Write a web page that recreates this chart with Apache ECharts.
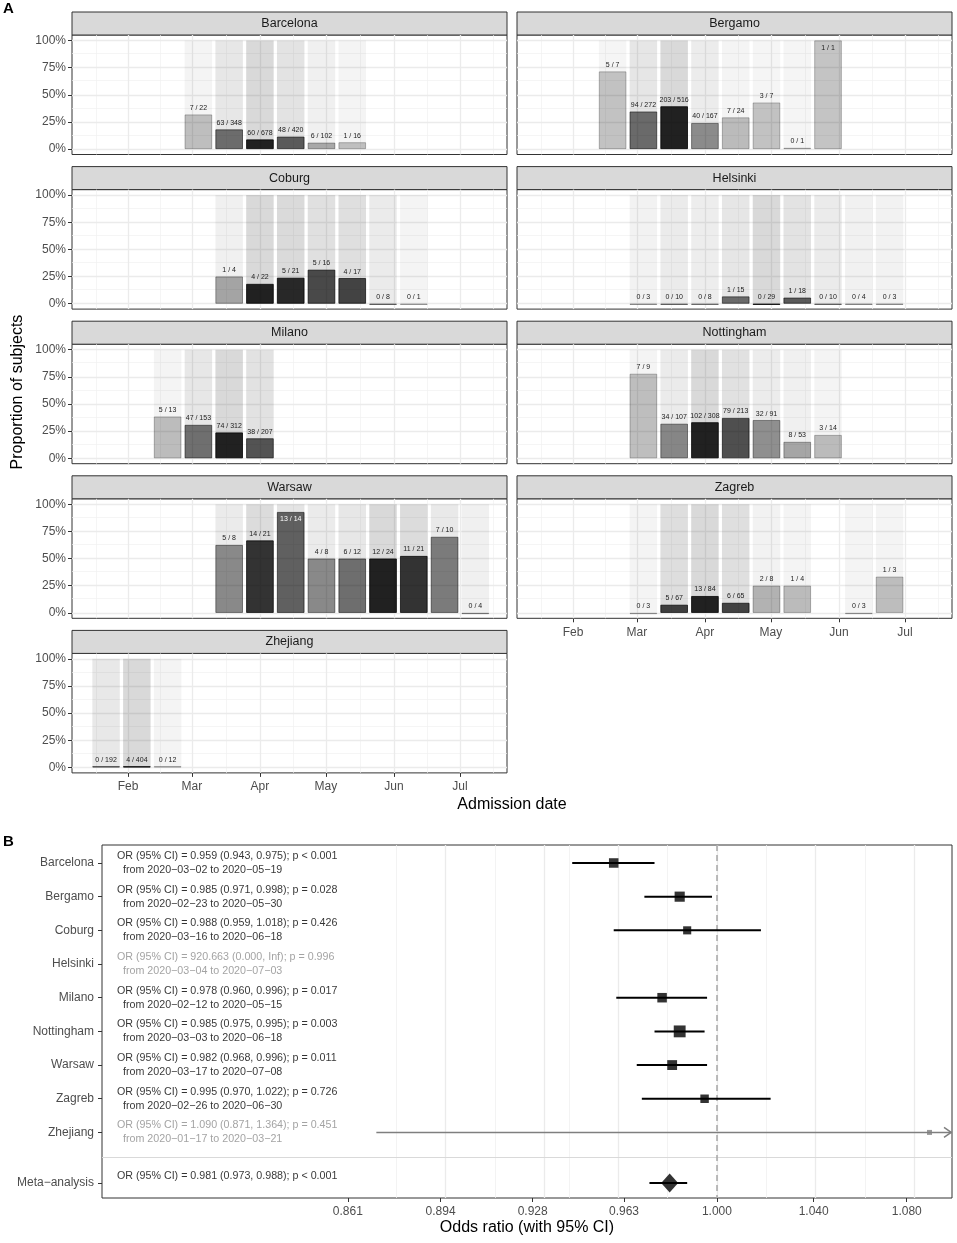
<!DOCTYPE html>
<html><head><meta charset="utf-8">
<script src="https://cdn.jsdelivr.net/npm/echarts@6/dist/echarts.min.js"></script>
<style>html,body{margin:0;padding:0;background:#fff}#c{width:957px;height:1243px}</style>
</head><body><div id="c"></div>
<script>
const _ = null;
const sites = ['Barcelona','Bergamo','Coburg','Helsinki','Milano','Nottingham','Warsaw','Zagreb','Zhejiang'];
const binCentres = ['2020-01-22','2020-02-05','2020-02-19','2020-03-04','2020-03-18','2020-04-01','2020-04-15','2020-04-29','2020-05-13','2020-05-27','2020-06-10','2020-06-24','2020-07-08'];
const barcelonaEvents  = [_,_,_,7,63,60,48,6,1,_,_,_,_];
const barcelonaTotals  = [_,_,_,22,348,678,420,102,16,_,_,_,_];
const bergamoEvents    = [_,_,5,94,203,40,7,3,0,1,_,_,_];
const bergamoTotals    = [_,_,7,272,516,167,24,7,1,1,_,_,_];
const coburgEvents     = [_,_,_,_,1,4,5,5,4,0,0,_,_];
const coburgTotals     = [_,_,_,_,4,22,21,16,17,8,1,_,_];
const helsinkiEvents   = [_,_,_,0,0,0,1,0,1,0,0,0,_];
const helsinkiTotals   = [_,_,_,3,10,8,15,29,18,10,4,3,_];
const milanoEvents     = [_,_,5,47,74,38,_,_,_,_,_,_,_];
const milanoTotals     = [_,_,13,153,312,207,_,_,_,_,_,_,_];
const nottinghamEvents = [_,_,_,7,34,102,79,32,8,3,_,_,_];
const nottinghamTotals = [_,_,_,9,107,308,213,91,53,14,_,_,_];
const warsawEvents     = [_,_,_,_,5,14,13,4,6,12,11,7,0];
const warsawTotals     = [_,_,_,_,8,21,14,8,12,24,21,10,4];
const zagrebEvents     = [_,_,_,0,5,13,6,2,1,_,0,1,_];
const zagrebTotals     = [_,_,_,3,67,84,65,8,4,_,3,3,_];
const zhejiangEvents   = [0,4,0,_,_,_,_,_,_,_,_,_,_];
const zhejiangTotals   = [192,404,12,_,_,_,_,_,_,_,_,_,_];
const monthTicks  = ['2020-02-01','2020-03-01','2020-04-01','2020-05-01','2020-06-01','2020-07-01'];
const monthLabels = ['Feb','Mar','Apr','May','Jun','Jul'];
const propTicks = [0, 0.25, 0.5, 0.75, 1];

// forest plot
const orEst  = [0.959, 0.985, 0.988, 920.663, 0.978, 0.985, 0.982, 0.995, 1.090];
const orLow  = [0.943, 0.971, 0.959, 0.000, 0.960, 0.975, 0.968, 0.970, 0.871];
const orHigh = [0.975, 0.998, 1.018, Infinity, 0.996, 0.995, 0.996, 1.022, 1.364];
const pText  = ['< 0.001','= 0.028','= 0.426','= 0.996','= 0.017','= 0.003','= 0.011','= 0.726','= 0.451'];
const fromDates = ['2020-03-02','2020-02-23','2020-03-16','2020-03-04','2020-02-12','2020-03-03','2020-03-17','2020-02-26','2020-01-17'];
const toDates   = ['2020-05-19','2020-05-30','2020-06-18','2020-07-03','2020-05-15','2020-06-18','2020-07-08','2020-06-30','2020-03-21'];
const weights = [14.5, 16.5, 10.5, 0, 14.5, 22.5, 15.5, 11.5, 4];
const metaName = 'Meta\u2212analysis';
const metaEst = 0.981, metaLow = 0.973, metaHigh = 0.988, metaP = '< 0.001';
const orTicks = [0.861, 0.894, 0.928, 0.963, 1.000, 1.040, 1.080];

// ---------- build ----------
const FONT = 'Liberation Sans, Arial, Helvetica, sans-serif';
const dayOf = s => { const [y,m,d] = s.split('-').map(Number); return (Date.UTC(y,m-1,d) - Date.UTC(2020,0,1)) / 86400000; };
const binDays = binCentres.map(dayOf);
const monthDays = monthTicks.map(dayOf);
const siteEvents = [barcelonaEvents,bergamoEvents,coburgEvents,helsinkiEvents,milanoEvents,nottinghamEvents,warsawEvents,zagrebEvents,zhejiangEvents];
const siteTotals = [barcelonaTotals,bergamoTotals,coburgTotals,helsinkiTotals,milanoTotals,nottinghamTotals,warsawTotals,zagrebTotals,zhejiangTotals];

const COL_X = [72, 517], PANEL_W = 435, PANEL_H = 119.5, TOP0 = 35, PITCH = 154.6, STRIP_H = 23;
const X_MIN = 5.5, X_MAX = 203.4;

const vMinor = [];
vMinor.push(monthDays[0] - (monthDays[1]-monthDays[0])/2);
for (let k = 0; k < monthDays.length-1; k++) vMinor.push((monthDays[k]+monthDays[k+1])/2);
const L = monthDays.length;
vMinor.push(monthDays[L-1] + (monthDays[L-1]-monthDays[L-2])/2);
const hMinor = [];
for (let k = 0; k < propTicks.length-1; k++) hMinor.push((propTicks[k]+propTicks[k+1])/2);

const option = { animation: false, textStyle: { fontFamily: FONT }, grid: [], xAxis: [], yAxis: [], series: [], graphic: [] };

sites.forEach((name, i) => {
  const col = i % 2, row = Math.floor(i / 2);
  const left = COL_X[col], top = TOP0 + row * PITCH;
  const showY = col === 0;
  const showX = i >= sites.length - 2;
  option.grid.push({ left, top, width: PANEL_W, height: PANEL_H, show: true, backgroundColor: '#fff', borderColor: '#333', borderWidth: 1 });
  option.xAxis.push({ type: 'value', gridIndex: i, min: X_MIN, max: X_MAX, position: 'bottom',
    axisLine: { show: false, onZero: false }, splitLine: { show: false },
    axisTick: { show: showX, customValues: monthDays, length: 4, lineStyle: { color: '#333' } },
    axisLabel: { show: showX, customValues: monthDays, fontSize: 12, color: '#4d4d4d', margin: 8,
      formatter: v => { const k = monthDays.indexOf(Math.round(v)); return k >= 0 ? monthLabels[k] : ''; } } });
  option.yAxis.push({ type: 'value', gridIndex: i, min: -0.05, max: 1.05, position: 'left',
    axisLine: { show: false, onZero: false }, splitLine: { show: false },
    axisTick: { show: showY, customValues: propTicks, length: 4, lineStyle: { color: '#333' } },
    axisLabel: { show: showY, customValues: propTicks, fontSize: 12, color: '#4d4d4d', margin: 6,
      formatter: v => Math.round(v * 100) + '%' } });

  const ev = siteEvents[i], tot = siteTotals[i];
  const maxN = Math.max(...tot.filter(v => v != null));
  const bg = [], fg = [];
  binDays.forEach((d, k) => {
    if (tot[k] == null) return;
    const r = tot[k] / maxN;
    const aF = 0.2 + 0.65 * r, aB = 0.04 + 0.11 * r;
    const p = ev[k] / tot[k];
    bg.push({ value: [d, 1], itemStyle: { color: `rgba(0,0,0,${aB.toFixed(3)})` } });
    const inside = p > 0.85;
    fg.push({ value: [d, p], lab: `${ev[k]} / ${tot[k]}`,
      itemStyle: { color: `rgba(0,0,0,${aF.toFixed(3)})`, borderColor: `rgba(0,0,0,${Math.min(1, aF + 0.1).toFixed(3)})`, borderWidth: 0.8 },
      label: inside ? { position: 'insideTop', distance: 4, color: aF > 0.5 ? '#fff' : '#1a1a1a' } : {} });
  });
  const gl = [];
  vMinor.forEach(v => gl.push({ xAxis: v, lineStyle: { color: '#f0f0f0', width: 0.7, type: 'solid' } }));
  hMinor.forEach(v => gl.push({ yAxis: v, lineStyle: { color: '#f0f0f0', width: 0.7, type: 'solid' } }));
  monthDays.forEach(v => gl.push({ xAxis: v, lineStyle: { color: '#ebebeb', width: 1.3, type: 'solid' } }));
  propTicks.forEach(v => gl.push({ yAxis: v, lineStyle: { color: '#ebebeb', width: 1.3, type: 'solid' } }));

  option.series.push({ type: 'bar', xAxisIndex: i, yAxisIndex: i, barWidth: 27.5, barGap: '-100%', z: 2, silent: true, data: bg,
    markLine: { silent: true, z: 1, symbol: 'none', label: { show: false }, data: gl } });
  option.series.push({ type: 'bar', xAxisIndex: i, yAxisIndex: i, barWidth: 27.5, barGap: '-100%', z: 3, silent: true,
    barMinHeight: 1.2, data: fg,
    label: { show: true, position: 'top', distance: 3, fontSize: 7, color: '#1a1a1a', fontFamily: FONT, formatter: p => p.data.lab } });

  option.graphic.push({ type: 'rect', shape: { x: left, y: top - STRIP_H, width: PANEL_W, height: STRIP_H },
    style: { fill: '#d9d9d9', stroke: '#333', lineWidth: 1 } });
  option.graphic.push({ type: 'text', x: left + PANEL_W / 2, y: top - STRIP_H / 2,
    style: { text: name, textAlign: 'center', textVerticalAlign: 'middle', font: `12.5px ${FONT}`, fill: '#1a1a1a' } });
});

// ---- forest ----
const FI = sites.length;
const F_LEFT = 102, F_TOP = 845, F_W = 850, F_H = 353;
const F_XMIN = Math.log(0.7793), F_XMAX = Math.log(1.1);
const rowNames = sites.concat([metaName]);
const rowYs = rowNames.map((n, i) => i < sites.length ? i : sites.length + 0.5);
const orTickLn = orTicks.map(Math.log);
const hy = s => s.replace(/-/g, '\u2212');

option.grid.push({ left: F_LEFT, top: F_TOP, width: F_W, height: F_H, show: true, backgroundColor: '#fff', borderColor: '#333', borderWidth: 1 });
option.xAxis.push({ type: 'value', gridIndex: FI, min: F_XMIN, max: F_XMAX, position: 'bottom',
  axisLine: { show: false, onZero: false }, splitLine: { show: false },
  axisTick: { customValues: orTickLn, length: 4, lineStyle: { color: '#333' } },
  axisLabel: { customValues: orTickLn, fontSize: 12, color: '#4d4d4d', margin: 8, formatter: v => Math.exp(v).toFixed(3) } });
option.yAxis.push({ type: 'value', gridIndex: FI, inverse: true, min: -0.534, max: 9.947, position: 'left',
  axisLine: { show: false, onZero: false }, splitLine: { show: false },
  axisTick: { customValues: rowYs, length: 4, lineStyle: { color: '#333' } },
  axisLabel: { customValues: rowYs, fontSize: 12, color: '#4d4d4d', margin: 8, formatter: v => rowNames[rowYs.indexOf(v)] || '' } });

const faded = i => !(isFinite(orHigh[i]) && orHigh[i] <= 1.1);
const fGrid = [];
for (let k = 0; k < orTickLn.length - 1; k++) fGrid.push({ xAxis: (orTickLn[k] + orTickLn[k+1]) / 2, lineStyle: { color: '#f0f0f0', width: 0.8, type: 'solid' } });
orTickLn.slice(1).forEach(v => fGrid.push({ xAxis: v, lineStyle: { color: '#ebebeb', width: 1.3, type: 'solid' } }));
fGrid.push({ yAxis: sites.length - 0.25, lineStyle: { color: '#d9d9d9', width: 1, type: 'solid' } });
fGrid.push({ xAxis: 0, lineStyle: { color: '#a6a6a6', width: 1.5, type: [6, 4] } });

const ciData = [];
sites.forEach((s, i) => { if (orLow[i] > 0 && isFinite(orHigh[i])) ciData.push([rowYs[i], Math.log(orLow[i]), Math.log(orHigh[i]), faded(i) ? 1 : 0]); });
ciData.push([rowYs[sites.length], Math.log(metaLow), Math.log(metaHigh), 0]);

option.series.push({ type: 'custom', xAxisIndex: FI, yAxisIndex: FI, z: 3, silent: true, clip: true,
  encode: { x: [1, 2], y: 0 }, data: ciData,
  renderItem: (params, api) => {
    const y = api.value(0), rawHi = api.value(2);
    const lo = Math.max(api.value(1), F_XMIN), hi = Math.min(rawHi, F_XMAX);
    const p1 = api.coord([lo, y]), p2 = api.coord([hi, y]);
    const f = api.value(3) === 1;
    const col = f ? '#7f7f7f' : '#000', lw = f ? 1.5 : 2;
    const ch = [{ type: 'line', shape: { x1: p1[0], y1: p1[1], x2: p2[0], y2: p2[1] }, style: { stroke: col, lineWidth: lw } }];
    if (rawHi > F_XMAX) ch.push({ type: 'polyline', shape: { points: [[p2[0] - 8, p2[1] - 5], [p2[0] - 0.8, p2[1]], [p2[0] - 8, p2[1] + 5]] }, style: { stroke: col, lineWidth: lw, fill: null } });
    return { type: 'group', children: ch };
  } });

const sqData = [];
sites.forEach((s, i) => {
  const x = Math.log(orEst[i]);
  if (x > F_XMIN && x < F_XMAX && weights[i] > 0)
    sqData.push({ value: [x, rowYs[i]], symbolSize: 2.5 * Math.sqrt(weights[i]), itemStyle: { color: faded(i) ? '#7f7f7f' : '#000' } });
});
option.series.push({ type: 'scatter', xAxisIndex: FI, yAxisIndex: FI, z: 4, silent: true, symbol: 'rect', data: sqData,
  markLine: { silent: true, z: 1, symbol: 'none', label: { show: false }, data: fGrid } });
option.series.push({ type: 'scatter', xAxisIndex: FI, yAxisIndex: FI, z: 4, silent: true, symbol: 'diamond', symbolSize: [17, 19],
  itemStyle: { color: '#000' }, data: [[Math.log(metaEst), rowYs[sites.length]]] });

const f3 = v => isFinite(v) ? v.toFixed(3) : 'Inf';
const txtData = sites.map((s, i) => ({ value: [F_XMIN, rowYs[i]],
  l1: `OR (95% CI) = ${f3(orEst[i])} (${f3(orLow[i])}, ${f3(orHigh[i])}); p ${pText[i]}`,
  l2: `from ${hy(fromDates[i])} to ${hy(toDates[i])}`, fd: faded(i) }));
txtData.push({ value: [F_XMIN, rowYs[sites.length]], l1: `OR (95% CI) = ${f3(metaEst)} (${f3(metaLow)}, ${f3(metaHigh)}); p ${metaP}`, l2: '\u00a0', fd: false });
option.series.push({ type: 'scatter', xAxisIndex: FI, yAxisIndex: FI, z: 5, silent: true, clip: false, symbolSize: 0,
  data: txtData,
  label: { show: true, position: 'right', distance: 15,
    formatter: p => p.data.fd ? `{g|${p.data.l1}}\n{g2|${p.data.l2}}` : `{a|${p.data.l1}}\n{a2|${p.data.l2}}`,
    rich: {
      a:  { fontSize: 10.7, color: '#000', lineHeight: 14, fontFamily: FONT },
      a2: { fontSize: 10.7, color: '#000', lineHeight: 14, fontFamily: FONT, padding: [0, 0, 0, 6] },
      g:  { fontSize: 10.7, color: '#8c8c8c', lineHeight: 14, fontFamily: FONT },
      g2: { fontSize: 10.7, color: '#8c8c8c', lineHeight: 14, fontFamily: FONT, padding: [0, 0, 0, 6] }
    } } });

// titles
option.graphic.push(
  { type: 'text', x: 3, y: 1, style: { text: 'A', font: `bold 15px ${FONT}`, fill: '#000' } },
  { type: 'text', x: 3, y: 834, style: { text: 'B', font: `bold 15px ${FONT}`, fill: '#000' } },
  { type: 'text', x: 18, y: 392, rotation: Math.PI / 2, style: { text: 'Proportion of subjects', textAlign: 'center', textVerticalAlign: 'middle', font: `16px ${FONT}`, fill: '#000' } },
  { type: 'text', x: 512, y: 805, style: { text: 'Admission date', textAlign: 'center', textVerticalAlign: 'middle', font: `16px ${FONT}`, fill: '#000' } },
  { type: 'text', x: 527, y: 1228, style: { text: 'Odds ratio (with 95% CI)', textAlign: 'center', textVerticalAlign: 'middle', font: `16px ${FONT}`, fill: '#000' } }
);

const chart = echarts.init(document.getElementById('c'), null, { renderer: 'canvas' });
chart.setOption(option);
</script></body></html>
